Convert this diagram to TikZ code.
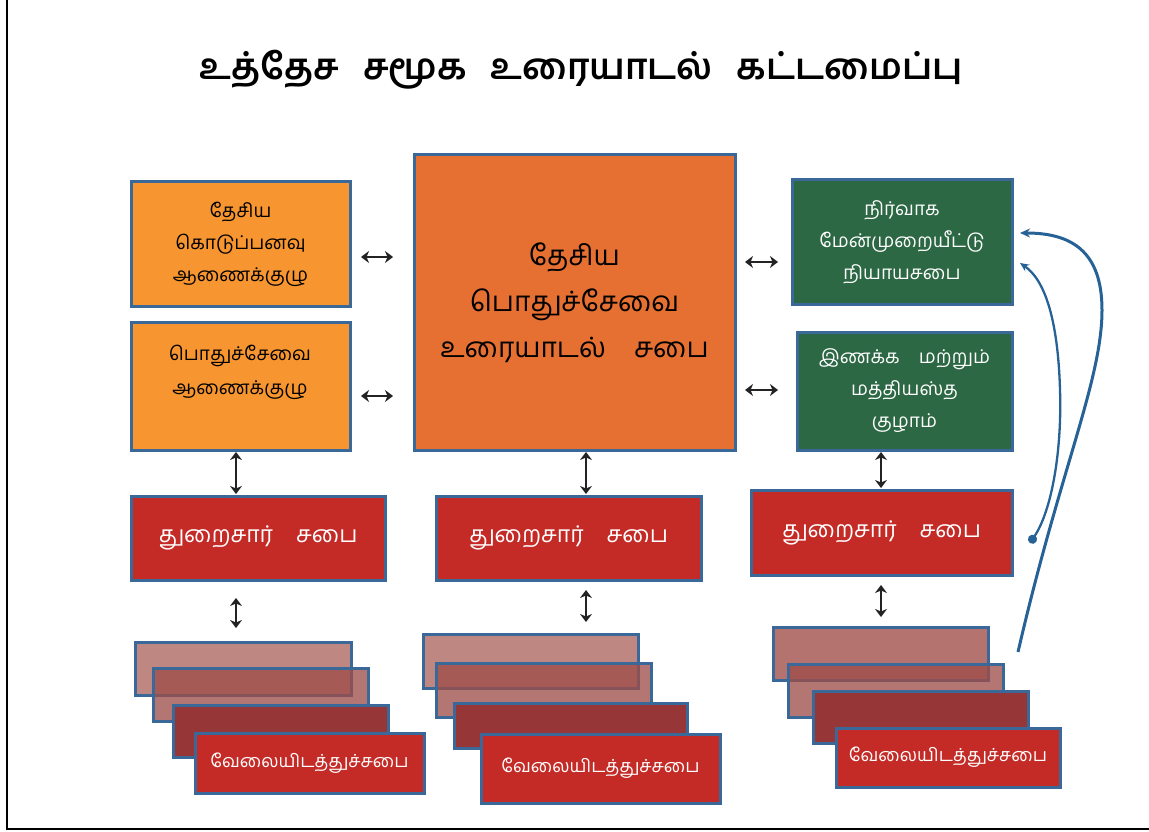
\documentclass[tikz,border=0pt]{standalone}
\usepackage{fontspec}
\newfontfamily\ta[Script=Tamil]{Hind Madurai}
\usetikzlibrary{arrows.meta}
\definecolor{bord}{RGB}{58,104,152}
\definecolor{orA}{RGB}{247,150,48}
\definecolor{orB}{RGB}{230,112,50}
\definecolor{grn}{RGB}{44,104,68}
\definecolor{redA}{RGB}{196,43,39}
\definecolor{stkA}{RGB}{190,135,130}
\definecolor{stkAd}{RGB}{180,115,110}
\definecolor{stkB}{RGB}{158,77,73}
\definecolor{stkC}{RGB}{150,54,55}
\definecolor{arr}{RGB}{35,35,35}
\definecolor{blu}{RGB}{38,98,150}
\begin{document}
\begin{tikzpicture}[x=1pt,y=-1pt,
  box/.style={draw=bord, line width=3pt, inner sep=0pt, outer sep=0pt, align=center, anchor=north west, font=\ta\fontsize{19}{32}\selectfont},
  stkone/.style={box, fill=stkA},
  stktwo/.style={box, fill=stkB, fill opacity=0.77, text opacity=1},
  stkthree/.style={box, fill=stkC},
  stkfour/.style={box, fill=redA, text=white, font=\ta\fontsize{18}{20}\selectfont},
  redbox/.style={box, fill=redA, text=white, font=\ta\fontsize{23}{26}\selectfont},
  dbl/.style={{Stealth[length=8pt,width=12pt,inset=2.5pt]}-{Stealth[length=8pt,width=12pt,inset=2.5pt]}, line width=1.8pt, draw=arr},
  curv/.style={draw=blu, line width=3pt},
]
\useasboundingbox (0,0) rectangle (1149,832);
\draw[line width=1.4pt] (7,0) -- (7,829) -- (1149,829);

\node[font=\ta\bfseries\fontsize{36}{40}\selectfont] (title) at (581,70) {உத்தேச\hspace{24pt}சமூக\hspace{24pt}உரையாடல்\hspace{24pt}கட்டமைப்பு};

% top row
\node[box, fill=orA, minimum width=219, minimum height=124] (o1) at (131,182) {தேசிய\\கொடுப்பனவு\\ஆணைக்குழு};
\node[box, fill=orA, minimum width=219, minimum height=128] (o2) at (131,322) {};
\node[align=center, font=\ta\fontsize{19}{34}\selectfont] (o2t) at (240,372) {பொதுச்சேவை\\ஆணைக்குழு};
\node[box, fill=orB, minimum width=321, minimum height=295, font=\ta\fontsize{28}{46}\selectfont] (c) at (414,155) {தேசிய\\பொதுச்சேவை\\உரையாடல்\quad சபை};
\node[box, fill=grn, text=white, minimum width=220, minimum height=124] (g1) at (792,180) {நிர்வாக\\மேன்முறையீட்டு\\நியாயசபை};
\node[box, fill=grn, text=white, minimum width=215, minimum height=118] (g2) at (797,332) {இணக்க\quad மற்றும்\\மத்தியஸ்த\\குழாம்};

% red row
\node[redbox, minimum width=254, minimum height=84] (r1) at (131,496) {துறைசார்\quad சபை};
\node[redbox, minimum width=265, minimum height=84] (r2) at (436,496) {துறைசார்\quad சபை};
\node[redbox, minimum width=261, minimum height=85] (r3) at (751,490) {துறைசார்\quad சபை};

% stacks left
\node[stkone, minimum width=216, minimum height=53] (s11) at (135,642) {};
\node[stktwo, minimum width=215, minimum height=53] (s12) at (153,668) {};
\node[stkthree, minimum width=215, minimum height=52] (s13) at (173,705) {};
\node[stkfour, minimum width=229, minimum height=60] (s14) at (195,733) {வேலையிடத்துச்சபை};
% stacks centre
\node[stkone, minimum width=215, minimum height=54] (s21) at (423,634) {};
\node[stktwo, minimum width=215, minimum height=54] (s22) at (436,663) {};
\node[stkthree, minimum width=233, minimum height=45] (s23) at (454,703) {};
\node[stkfour, minimum width=239, minimum height=69] (s24) at (481,734) {வேலையிடத்துச்சபை};
% stacks right
\node[stkone, fill=stkAd, minimum width=215, minimum height=53] (s31) at (773,627) {};
\node[stktwo, minimum width=215, minimum height=53] (s32) at (788,664) {};
\node[stkthree, minimum width=215, minimum height=52] (s33) at (813,691) {};
\node[stkfour, minimum width=224, minimum height=59] (s34) at (836,728) {வேலையிடத்துச்சபை};

% horizontal double arrows
\draw[dbl, shorten <=11pt, shorten >=21pt] (o1.east |- 0,257) -- (c.west |- 0,257);
\draw[dbl, shorten <=11pt, shorten >=21pt] (o2.east |- 0,396) -- (c.west |- 0,396);
\draw[dbl, shorten <=10pt, shorten >=14pt] (c.east |- 0,262) -- (g1.west |- 0,262);
\draw[dbl, shorten <=10pt, shorten >=19pt] (c.east |- 0,390) -- (g2.west |- 0,390);

% vertical double arrows
\draw[dbl, shorten <=2pt, shorten >=2pt] (o2.south -| 236,0) -- (r1.north -| 236,0);
\draw[dbl, shorten <=2pt, shorten >=2pt] (c.south -| 586,0) -- (r2.north -| 586,0);
\draw[dbl, shorten <=2pt, shorten >=2pt] (g2.south -| 881,0) -- (r3.north -| 881,0);
\draw[dbl, shorten <=18pt, shorten >=14pt] (r1.south -| 236,0) -- (s11.north -| 236,0);
\draw[dbl, shorten <=10pt, shorten >=12pt] (r2.south -| 586,0) -- (s21.north -| 586,0);
\draw[dbl, shorten <=10pt, shorten >=10pt] (r3.south -| 881,0) -- (s31.north -| 881,0);

% blue curved arrows
\coordinate (aS) at (1018,652);
\coordinate (aT) at (1020,233);
\coordinate (bS) at (1030,543);
\coordinate (bT) at (1020,263);
\draw[curv, -{Stealth[length=10pt,width=9pt]}] (aS) .. controls (1060,470) and (1102,380) .. (1102,310) .. controls (1102,250) and (1070,233) .. (aT);
\draw[curv, line width=2.3pt, {Circle[length=9pt]}-{Stealth[length=9pt,width=8pt]}] (bS) .. controls (1052,510) and (1062,450) .. (1060,390) .. controls (1058,320) and (1045,280) .. (bT);
\end{tikzpicture}
\end{document}
